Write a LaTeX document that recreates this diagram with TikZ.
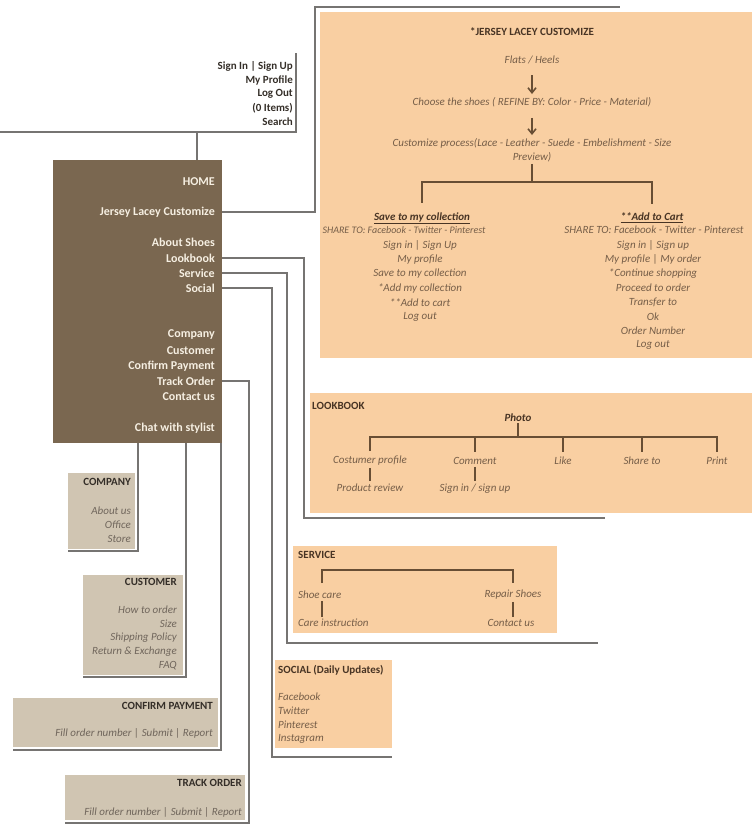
\documentclass[tikz,border=0pt]{standalone}
\usepackage{fontspec}
\setmainfont{Carlito}
\usetikzlibrary{arrows.meta}
\definecolor{homebrown}{RGB}{122,103,80}
\definecolor{homecream}{RGB}{246,239,226}
\definecolor{peach}{RGB}{249,207,162}
\definecolor{sand}{RGB}{208,197,178}
\definecolor{framegray}{RGB}{118,116,114}
\definecolor{branchbrown}{RGB}{104,78,52}
\definecolor{pdark}{RGB}{72,52,36}
\definecolor{ptext}{RGB}{118,94,72}
\definecolor{sdark}{RGB}{52,46,40}
\definecolor{stext}{RGB}{112,102,92}

\begin{document}
\begin{tikzpicture}[x=1pt,y=-1pt,
  frame/.style={draw=framegray,line width=1.6pt},
  branch/.style={draw=branchbrown,line width=1.4pt},
  arr/.style={branch,line width=1.6pt,-{Straight Barb[length=5pt,width=8pt]}},
  panel/.style={anchor=north west,inner sep=0pt,outer sep=0pt},
  mitem/.style={anchor=east,inner sep=0pt,text=sdark,font=\fontsize{11}{13}\selectfont\bfseries},
  hitem/.style={anchor=east,inner sep=0pt,text=homecream,font=\fontsize{12}{14}\selectfont\bfseries},
  phead/.style={inner sep=0pt,text=pdark,font=\fontsize{11}{13}\selectfont\bfseries},
  pitem/.style={inner sep=0pt,text=ptext,font=\fontsize{11}{13}\selectfont\itshape},
  shead/.style={anchor=east,inner sep=0pt,text=sdark,font=\fontsize{11}{13}\selectfont\bfseries},
  sitem/.style={anchor=east,inner sep=0pt,text=stext,font=\fontsize{11}{13}\selectfont\itshape}]
\useasboundingbox (0,0) rectangle (752,825);

% panels
\node[panel,fill=homebrown,minimum width=169pt,minimum height=283pt] (home) at (53,160) {};
\node[panel,fill=peach,minimum width=432pt,minimum height=346pt] (custBox) at (320,12) {};
\node[panel,fill=peach,minimum width=442pt,minimum height=120pt] (lookBox) at (310,393) {};
\node[panel,fill=peach,minimum width=264pt,minimum height=87pt] (servBox) at (293,546) {};
\node[panel,fill=peach,minimum width=117pt,minimum height=88pt] (socBox) at (275,660) {};
\node[panel,fill=sand,minimum width=67pt,minimum height=76pt] (compBox) at (68,473) {};
\node[panel,fill=sand,minimum width=100pt,minimum height=100pt] (custmBox) at (83,575) {};
\node[panel,fill=sand,minimum width=205pt,minimum height=49pt] (payBox) at (13,698) {};
\node[panel,fill=sand,minimum width=180pt,minimum height=45pt] (trackBox) at (65,775) {};

% top menu
\foreach \t [count=\i] in {Sign In | Sign Up, My Profile, Log Out, (0 Items), Search}
  \node[mitem] (menu\i) at (293,52+14*\i) {\t};

% home items
\node[hitem] (hHome) at (215,182) {HOME};
\node[hitem] (hJersey) at (215,212) {Jersey Lacey Customize};
\node[hitem] (hAbout) at (215,242) {About Shoes};
\node[hitem] (hLook) at (215,258) {Lookbook};
\node[hitem] (hServ) at (215,273) {Service};
\node[hitem] (hSocial) at (215,288) {Social};
\node[hitem] (hComp) at (215,335) {Company};
\node[hitem] (hCust) at (215,351) {Customer};
\node[hitem] (hPay) at (215,366) {Confirm Payment};
\node[hitem] (hTrack) at (215,381) {Track Order};
\node[hitem] (hContact) at (215,397) {Contact us};
\node[hitem] (hChat) at (215,428) {Chat with stylist};

% frame lines
\coordinate (menuTop) at (296,53);
\coordinate (menuCorner) at (296,132);
\coordinate (menuEnd) at (0,132);
\coordinate (homeStem) at (197,132);
\draw[frame] (menuTop) -- (menuCorner) -- (menuEnd);
\draw[frame] (homeStem) -- (homeStem |- home.north);

\coordinate (custCorner) at (315,7);
\coordinate (custEnd) at (620,7);
\draw[frame] (home.east |- hJersey) -| (custCorner) -- (custEnd);
\coordinate (lookCorner) at (304,518);
\coordinate (lookEnd) at (605,518);
\draw[frame] (home.east |- hLook) -| (lookCorner) -- (lookEnd);
\coordinate (servCorner) at (287,643);
\coordinate (servEnd) at (598,643);
\draw[frame] (home.east |- hServ) -| (servCorner) -- (servEnd);
\coordinate (socCorner) at (272,757);
\coordinate (socEnd) at (392,757);
\draw[frame] (home.east |- hSocial) -| (socCorner) -- (socEnd);
\coordinate (trackCorner) at (249,823);
\coordinate (trackEnd) at (65,823);
\draw[frame] (home.east |- hTrack) -| (trackCorner) -- (trackEnd);

\coordinate (compCorner) at (138,551);
\coordinate (compEnd) at (68,551);
\draw[frame] (home.south -| compCorner) -- (compCorner) -- (compEnd);
\coordinate (custmCorner) at (186,677);
\coordinate (custmEnd) at (83,677);
\draw[frame] (home.south -| custmCorner) -- (custmCorner) -- (custmEnd);
\coordinate (payCorner) at (221,750);
\coordinate (payEnd) at (13,750);
\draw[frame] (home.south -| payCorner) -- (payCorner) -- (payEnd);

% customize flow
\node[phead] (title) at (532,32) {*JERSEY LACEY CUSTOMIZE};
\node[pitem] (flats) at (532,60) {Flats / Heels};
\node[pitem] (choose) at (532,102) {Choose the shoes ( REFINE BY: Color - Price - Material)};
\node[pitem,align=center,font=\fontsize{11}{14}\selectfont\itshape] (process) at (532,150)
  {Customize process(Lace - Leather - Suede - Embelishment - Size\\Preview)};
\draw[arr] ([yshift=-11pt]flats.south) -- ([yshift=3pt]choose.north);
\draw[arr] ([yshift=-11pt]choose.south) -- ([yshift=3pt]process.north);

\node[phead,font=\fontsize{11}{13}\selectfont\bfseries\itshape] (saveHead) at (422,218) {\underline{Save to my collection}};
\node[phead,font=\fontsize{11}{13}\selectfont\bfseries\itshape] (cartHead) at (652,218) {\underline{**Add to Cart}};
\coordinate (custSplit) at (532,182);
\draw[branch] ([yshift=-2pt]process.south) -- (custSplit);
\draw[branch,shorten >=9pt] (custSplit) -| (saveHead.north);
\draw[branch,shorten >=9pt] (custSplit) -| (cartHead.north);

\node[pitem,font=\fontsize{10}{12}\selectfont\itshape] (saveShare) at (404,230) {SHARE TO: Facebook - Twitter - Pinterest};
\node[pitem] (cartShare) at (654,230) {SHARE TO: Facebook - Twitter - Pinterest};
\foreach \t [count=\i] in {Sign in | Sign Up, My profile, Save to my collection, *Add my collection, **Add to cart, Log out}
  \node[pitem] (save\i) at (420,231+14.3*\i) {\t};
\foreach \t [count=\i] in {Sign in | Sign up, My profile | My order, *Continue shopping, Proceed to order, Transfer to, Ok, Order Number, Log out}
  \node[pitem] (cart\i) at (653,231+14.3*\i) {\t};

% lookbook
\node[phead,anchor=west] (lookHead) at (312,406) {LOOKBOOK};
\node[phead,font=\fontsize{11}{13}\selectfont\bfseries\itshape] (photo) at (518,418) {Photo};
\node[pitem] (lb1) at (370,461) {Costumer profile};
\node[pitem] (lb2) at (475,461) {Comment};
\node[pitem] (lb3) at (563,461) {Like};
\node[pitem] (lb4) at (642,461) {Share to};
\node[pitem] (lb5) at (717,461) {Print};
\node[pitem] (lb1sub) at (370,488) {Product review};
\node[pitem] (lb2sub) at (475,489) {Sign in / sign up};
\coordinate (lookSplit) at (518,437);
\draw[branch] ([yshift=-1pt]photo.south) -- (lookSplit);
\foreach \n in {lb1,lb2,lb3,lb4,lb5}
  \draw[branch,shorten >=5pt] (lookSplit) -| (\n.north);
\draw[branch,shorten <=2pt,shorten >=3pt] (lb1.south) -- (lb1sub.north);
\draw[branch,shorten <=2pt,shorten >=3pt] (lb2.south) -- (lb2sub.north);

% service
\node[phead,anchor=west] (servHead) at (298,555) {SERVICE};
\node[pitem,anchor=west] (shoeCare) at (298,595) {Shoe care};
\node[pitem] (repair) at (513,595) {Repair Shoes};
\node[pitem,anchor=west] (careInst) at (298,623) {Care instruction};
\node[pitem] (servContact) at (511,623) {Contact us};
\coordinate (servL) at (322,583);
\coordinate (servR) at (513,583);
\draw[branch] (servL) -- ++(0,-13) -| (servR);
\draw[branch,shorten <=2pt,shorten >=2pt] (servL |- shoeCare.south) -- (servL |- careInst.north);
\draw[branch,shorten <=2pt,shorten >=2pt] (repair.south) -- (repair.south |- servContact.north);

% social
\node[phead,anchor=west] (socHead) at (278,670) {SOCIAL (Daily Updates)};
\foreach \t [count=\i] in {Facebook, Twitter, Pinterest, Instagram}
  \node[pitem,anchor=west] (soc\i) at (278,683+14*\i) {\t};

% company
\node[shead] (compHead) at (131,482) {COMPANY};
\foreach \t [count=\i] in {About us, Office, Store}
  \node[sitem] (comp\i) at (131,497+14*\i) {\t};

% customer
\node[shead] (custmHead) at (177,582) {CUSTOMER};
\foreach \t [count=\i] in {How to order, Size, Shipping Policy, Return \& Exchange, FAQ}
  \node[sitem] (custm\i) at (177,596+14*\i) {\t};

% confirm payment
\node[shead] (payHead) at (213,706) {CONFIRM PAYMENT};
\node[sitem] (payText) at (213,733) {Fill order number | Submit | Report};

% track order
\node[shead] (trackHead) at (242,783) {TRACK ORDER};
\node[sitem] (trackText) at (242,812) {Fill order number | Submit | Report};
\end{tikzpicture}
\end{document}
